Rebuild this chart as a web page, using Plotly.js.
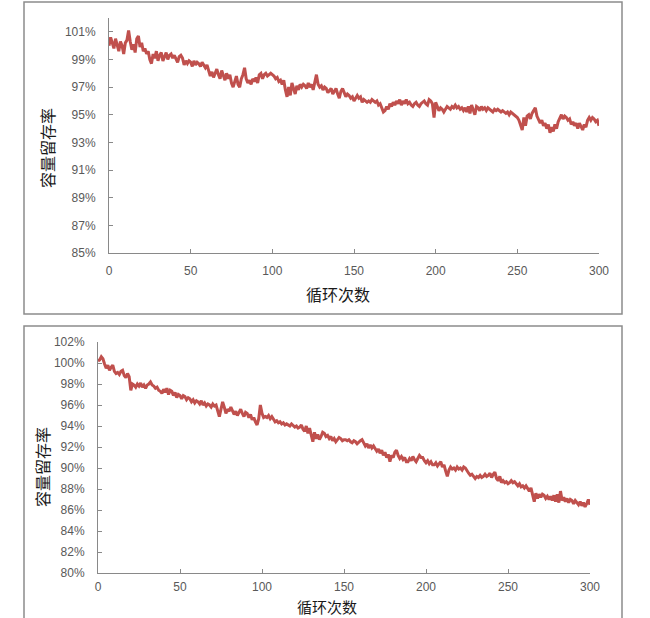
<!DOCTYPE html>
<html>
<head>
<meta charset="utf-8">
<script src="https://cdn.plot.ly/plotly-3.0.1.min.js"></script>
<style>
  html, body { margin: 0; padding: 0; background: #fff; }
  #chart { width: 650px; height: 618px; }
</style>
</head>
<body>
<div id="chart"></div>
<script>
// cycle numbers 0..300
var cycles = [];
for (var i = 0; i <= 300; i++) cycles.push(i);

// capacity retention (%), upper chart
var retentionTop = [
  100.0, 100.6, 100.2, 99.8, 100.5, 100.1, 99.6, 100.3, 100.0, 99.4,
  100.2, 100.4, 101.1, 100.3, 99.7, 100.1, 99.5, 100.5, 100.7, 99.9,
  100.2, 99.6, 99.8, 99.4, 99.6, 99.0, 98.7, 99.4, 99.1, 99.6,
  98.9, 99.3, 99.5, 98.9, 99.2, 99.5, 99.0, 99.3, 99.4, 99.1,
  99.3, 99.0, 98.8, 99.2, 99.3, 99.1, 98.6, 98.9, 98.7, 98.9,
  98.8, 98.5, 98.9, 98.6, 98.8, 98.7, 98.5, 98.8, 98.6, 98.4,
  98.6, 98.2, 97.8, 98.1, 97.7, 98.0, 98.3, 97.9, 97.6, 98.2,
  97.8, 97.5, 98.0, 97.6, 97.9, 97.3, 97.0, 97.5, 97.8, 97.2,
  97.0, 97.6, 97.9, 98.4, 97.6, 97.3, 97.5, 97.2, 97.6, 97.4,
  97.7, 97.3, 97.9, 98.0, 97.6, 97.9, 98.0, 97.8, 97.9, 98.0,
  97.9, 97.8, 97.6, 97.7, 97.4, 97.5, 97.2, 97.5, 96.8, 96.3,
  97.0, 96.4, 97.3, 96.9, 96.5, 97.1, 96.8, 97.2, 97.0, 97.2,
  97.1, 96.9, 97.3, 97.0, 97.2, 96.8, 97.4, 97.9, 97.2, 97.0,
  97.1, 96.8, 97.0, 96.9, 96.6, 96.8, 96.9, 96.5, 96.7, 96.9,
  96.5, 96.2, 96.7, 96.9, 96.6, 96.3, 96.5, 96.4, 96.2, 96.3,
  96.0, 96.2, 96.4, 96.2, 96.3, 95.9, 96.1, 96.0, 95.9, 96.0,
  95.9, 96.1, 96.0, 95.9, 96.0, 95.7, 95.8, 95.5, 95.2, 95.3,
  95.6, 95.4, 95.8, 95.6, 95.9, 95.7, 96.0, 95.8, 96.1, 95.7,
  96.0, 95.8, 96.1, 95.8, 95.9, 95.7, 95.6, 95.8, 95.9, 95.7,
  95.6, 95.8, 95.9, 96.0, 95.8, 95.7, 96.1, 96.0, 95.8, 94.8,
  95.9, 95.6, 95.3, 95.5, 95.4, 95.2, 95.4, 95.6, 95.5, 95.4,
  95.6, 95.5, 95.7, 95.5, 95.6, 95.4, 95.5, 95.3, 95.5, 95.2,
  95.6, 95.1, 95.7, 95.4, 95.0, 95.6, 95.5, 95.3, 95.6, 95.4,
  95.5, 95.3, 95.5, 95.4, 95.3, 95.2, 95.4, 95.3, 95.4, 95.3,
  95.2, 95.3, 95.2, 95.1, 95.2, 95.0, 95.2, 95.1, 95.0, 94.9,
  94.8, 94.6, 94.3, 93.9, 94.8, 94.2, 94.9, 95.0, 94.7, 95.1,
  95.3, 95.5, 94.9, 94.6, 94.4, 94.6, 94.2, 94.4, 94.0, 94.3,
  93.7, 94.1, 93.8, 94.3, 94.0, 94.5, 94.8, 95.0, 94.7, 94.9,
  94.8, 94.6, 94.7, 94.3, 94.5, 94.2, 94.4, 94.0, 94.4, 94.2,
  93.9, 94.3, 94.1, 94.6, 94.8, 94.6, 94.8, 94.7, 94.5, 94.6,
  94.2
];

// capacity retention (%), lower chart
var retentionBottom = [
  100.2, 100.3, 100.6, 100.4, 99.9, 99.5, 99.8, 99.3, 99.6, 99.8,
  99.2, 99.0, 99.1, 98.9, 99.2, 99.3, 98.8, 98.6, 99.0, 98.7,
  97.4, 98.0, 97.9, 97.7, 98.0, 97.8, 98.1, 97.7, 97.9, 97.6,
  97.9, 98.0, 98.2, 97.9, 97.8, 97.6, 97.7, 97.4, 97.3, 97.1,
  97.5, 97.2, 97.6, 97.0, 97.4, 97.3, 96.9, 97.2, 96.7, 97.0,
  96.9, 96.6, 96.9, 96.8, 96.5, 96.7, 96.6, 96.3, 96.5, 96.2,
  96.4, 96.3, 96.1, 96.4, 96.0, 96.2, 95.9, 96.1, 96.0, 95.8,
  96.1, 95.9, 96.0, 95.5, 94.9, 95.6, 96.3, 95.8, 95.2, 95.6,
  95.4, 95.8, 95.5, 95.1, 95.4, 95.0, 95.3, 95.6, 95.2, 94.9,
  95.3, 95.2, 94.8, 95.1, 94.6, 94.8, 94.4, 94.1, 94.7, 96.0,
  95.2, 94.8, 94.9, 94.8, 95.0, 94.7, 94.9, 94.6, 94.4, 94.5,
  94.3, 94.4, 94.2, 94.3, 94.1, 94.2, 94.1, 94.0, 94.2, 94.0,
  93.9, 94.0, 93.8, 93.9, 94.1, 93.7, 93.5, 94.0, 93.3, 93.8,
  93.1, 92.5, 93.4, 92.8, 93.2, 92.7, 93.0, 93.4, 93.3, 93.0,
  93.1, 92.8, 93.0, 92.6, 92.8, 92.5, 92.7, 92.9, 92.8, 92.6,
  92.7, 92.7, 92.6, 92.7, 92.5, 92.4, 92.6, 92.5, 92.3, 92.5,
  92.6, 92.7, 92.4, 92.1, 92.3, 91.9, 92.2, 91.9, 92.1, 91.8,
  91.6, 91.8, 91.4, 91.7, 91.2, 91.5, 91.0, 91.3, 90.6, 91.2,
  91.0, 91.5, 91.7, 91.2, 90.9, 91.1, 90.8, 91.0, 90.6, 90.6,
  90.9, 90.7, 91.1, 90.8, 90.6, 90.9, 91.2, 91.0, 91.0, 90.7,
  90.5, 90.7, 90.4, 90.6, 90.3, 90.3, 90.5, 90.2, 90.4, 90.6,
  90.1, 90.3, 89.7, 89.2, 89.8, 90.1, 89.9, 90.0, 89.8, 90.1,
  89.9, 90.0, 89.8, 90.1, 90.0, 89.7, 89.5, 89.3, 89.4, 89.2,
  89.0, 89.2, 89.1, 89.3, 89.1, 89.2, 89.4, 89.2, 89.3, 89.5,
  89.1, 89.4, 89.6, 89.0, 88.8, 89.2, 88.6, 88.8, 88.6, 88.7,
  88.5, 88.6, 88.8, 88.6, 88.7, 88.5, 88.3, 88.5, 88.2, 88.3,
  88.1, 88.3, 88.0, 87.8, 88.1, 87.5, 86.8, 87.6, 87.1, 87.5,
  87.2, 87.5, 87.4, 87.1, 87.3, 87.0, 87.3, 86.9, 87.4, 86.8,
  87.5, 86.7, 87.8, 86.9, 87.2, 86.8, 87.1, 86.7, 87.0, 86.9,
  86.6, 86.9, 86.7, 86.5, 86.8, 86.4, 86.7, 86.3, 86.6, 87.0,
  86.5
];

var xTicks = [0, 50, 100, 150, 200, 250, 300];
var yTicksTop = [85, 87, 89, 91, 93, 95, 97, 99, 101];
var yTicksBottom = [80, 82, 84, 86, 88, 90, 92, 94, 96, 98, 100, 102];

var xTitle = '循环次数';
var yTitle = '容量留存率';

var lineColor = '#C0504D';
var axisColor = '#898989';
var tickFont = { family: 'Liberation Sans, Arial, sans-serif', size: 12, color: '#595959' };
var titleFont = { family: 'Noto Sans CJK SC, sans-serif', size: 16, color: '#1a1a1a' };
var smallTitleFont = { family: 'Noto Sans CJK SC, sans-serif', size: 15, color: '#1a1a1a' };

var traces = [
  {
    x: cycles, y: retentionTop, xaxis: 'x', yaxis: 'y',
    type: 'scatter', mode: 'lines',
    line: { color: lineColor, width: 3 },
    hoverinfo: 'x+y'
  },
  {
    x: cycles, y: retentionBottom, xaxis: 'x2', yaxis: 'y2',
    type: 'scatter', mode: 'lines',
    line: { color: lineColor, width: 3 },
    hoverinfo: 'x+y'
  }
];

function xAxis(domain, anchor, standoff) {
  return {
    domain: domain, anchor: anchor, range: [0, 300],
    tickvals: xTicks, ticks: 'inside', ticklen: 4, tickcolor: axisColor,
    showline: true, linecolor: axisColor, linewidth: 1,
    showgrid: false, zeroline: false, tickfont: tickFont,
    ticklabelstandoff: standoff, fixedrange: true
  };
}

function yAxis(domain, anchor, range, ticks) {
  return {
    domain: domain, anchor: anchor, range: range,
    tickvals: ticks, ticktext: ticks.map(function (v) { return v + '%'; }),
    ticks: 'inside', ticklen: 4, tickcolor: axisColor,
    showline: true, linecolor: axisColor, linewidth: 1,
    showgrid: false, zeroline: false, tickfont: tickFont,
    ticklabelstandoff: 10, fixedrange: true
  };
}

var layout = {
  width: 650, height: 618,
  margin: { l: 0, r: 0, t: 0, b: 0 },
  paper_bgcolor: '#ffffff', plot_bgcolor: '#ffffff',
  showlegend: false,
  xaxis: xAxis([109 / 650, 599 / 650], 'y', 7),
  yaxis: yAxis([1 - 253 / 618, 1 - 18 / 618], 'x', [85, 102], yTicksTop),
  xaxis2: xAxis([98 / 650, 590 / 650], 'y2', 3),
  yaxis2: yAxis([1 - 573 / 618, 1 - 342 / 618], 'x2', [80, 102], yTicksBottom),
  shapes: [
    // chart frames
    { type: 'rect', xref: 'paper', yref: 'paper',
      x0: 24 / 650, x1: 622 / 650, y0: 1 - 314 / 618, y1: 1 - 2 / 618,
      line: { color: '#8c8c8c', width: 1.5 } },
    { type: 'rect', xref: 'paper', yref: 'paper',
      x0: 24 / 650, x1: 622 / 650, y0: -0.02, y1: 1 - 326 / 618,
      line: { color: '#8c8c8c', width: 1.5 } }
  ],
  annotations: [
    { text: xTitle, xref: 'paper', yref: 'paper', x: 338 / 650, y: 1 - 294 / 618,
      showarrow: false, font: titleFont, xanchor: 'center', yanchor: 'middle' },
    { text: yTitle, xref: 'paper', yref: 'paper', x: 47 / 650, y: 1 - 148 / 618,
      showarrow: false, font: titleFont, textangle: -90, xanchor: 'center', yanchor: 'middle' },
    { text: xTitle, xref: 'paper', yref: 'paper', x: 327 / 650, y: 1 - 606 / 618,
      showarrow: false, font: smallTitleFont, xanchor: 'center', yanchor: 'middle' },
    { text: yTitle, xref: 'paper', yref: 'paper', x: 42 / 650, y: 1 - 467 / 618,
      showarrow: false, font: titleFont, textangle: -90, xanchor: 'center', yanchor: 'middle' }
  ]
};

Plotly.newPlot('chart', traces, layout, { displayModeBar: false, staticPlot: true });
</script>
</body>
</html>
